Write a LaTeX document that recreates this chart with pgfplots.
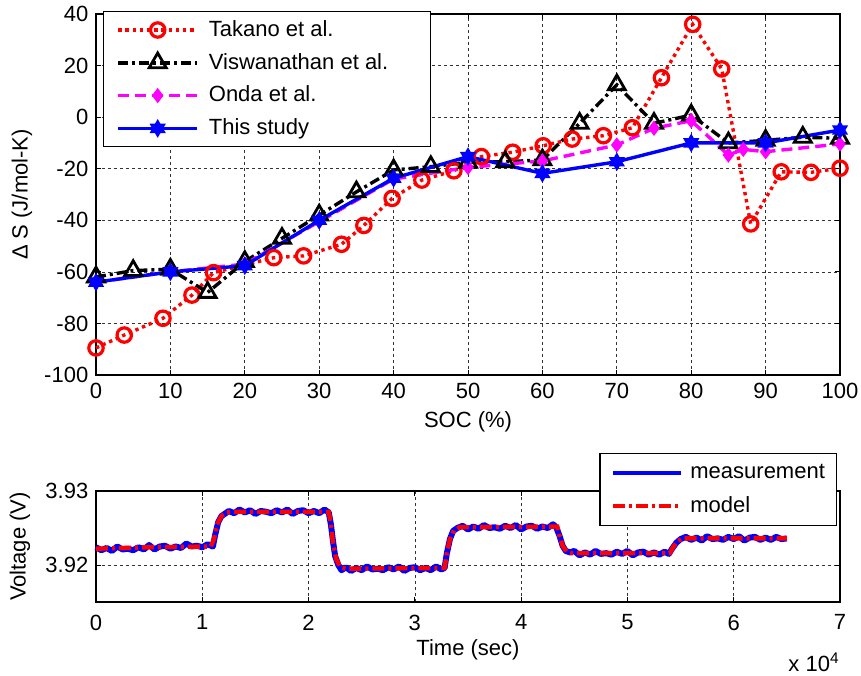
\documentclass[border=0pt]{standalone}
\usepackage{fontspec}
\setmainfont{Liberation Sans}
\usepackage{pgfplots}
\pgfplotsset{compat=1.18}
\definecolor{mag}{rgb}{1,0,1}
\definecolor{pblue}{rgb}{0,0,1}
\definecolor{pred}{rgb}{1,0,0}
\pgfdeclareplotmark{hexagram}{%
  \pgfpathmoveto{\pgfqpointpolar{90}{\pgfplotmarksize}}%
  \pgfpathlineto{\pgfqpointpolar{210}{\pgfplotmarksize}}%
  \pgfpathlineto{\pgfqpointpolar{330}{\pgfplotmarksize}}%
  \pgfpathclose
  \pgfpathmoveto{\pgfqpointpolar{270}{\pgfplotmarksize}}%
  \pgfpathlineto{\pgfqpointpolar{30}{\pgfplotmarksize}}%
  \pgfpathlineto{\pgfqpointpolar{150}{\pgfplotmarksize}}%
  \pgfpathclose
  \pgfusepathqfillstroke
}
\pgfplotsset{
  common/.style={
    scale only axis, width=372pt,
    /pgf/number format/assume math mode=true,
    tick align=inside, major tick length=2.5pt,
    grid=major,
    major grid style={black!80, line width=0.35pt, dash pattern=on 1.5pt off 1.5pt},
    axis line style={line width=0.6pt},
    every tick/.style={black, line width=0.5pt},
    clip=false,
    legend cell align=left,
  }
}
\begin{document}
\fontsize{11}{13}\selectfont
\begin{tikzpicture}
\useasboundingbox (-48pt,-150pt) rectangle (382.5pt,187.5pt);
\begin{axis}[common, at={(0pt,0pt)}, anchor=south west,
  height=180.5pt,
  xmin=0, xmax=100, ymin=-100, ymax=40,
  xtick={0,10,...,100}, ytick={-100,-80,...,40},
  every axis x label/.style={at={(axis description cs:0.5,0)}, yshift=-23.5pt, anchor=center},
  every axis y label/.style={at={(axis description cs:0,0.5)}, xshift=-37pt, anchor=center, rotate=90},
  xlabel={SOC (\%)}, ylabel={Δ S (J/mol-K)},
  legend image code/.code={%
    \path[draw=none,fill=none] (-7.3pt,-8.2pt) rectangle (39.5pt,8.2pt);
    \draw[mark repeat=2, mark phase=2] plot coordinates {(0pt,0pt) (19.75pt,0pt) (39.5pt,0pt)};},
  legend style={at={(0.0094,1.0083)}, anchor=north west, draw=black, line width=0.6pt, fill=white,
    inner xsep=0pt, inner ysep=1pt, column sep=5pt, row sep=0pt, nodes={inner sep=0pt}},
]
\addplot[pred, line width=1.7pt, dash pattern=on 1.7pt off 1.9pt, mark=o, mark size=3.6pt,
  mark options={solid, line width=1.6pt}] coordinates {
(0,-89.5) (3.8,-84.5) (9,-78) (12.9,-69) (15.8,-60.3) (23.9,-54.5) (27.9,-53.8) (33,-49.3)
(36,-42) (39.8,-31.5) (43.8,-24.4) (48.1,-20.8) (51.8,-15.3) (56,-13.6) (60.1,-11.1)
(64,-8.5) (68.2,-7.2) (72.1,-4.1) (76,15.3) (80.2,36) (84.1,18.7) (88,-41.4) (92.1,-21.2)
(96.1,-21.4) (100,-19.8)};
\addlegendentry{\makebox[111pt][l]{Takano et al.}}
\addplot[black, line width=1.7pt, dash pattern=on 5pt off 2pt on 1.5pt off 2pt, mark=triangle, mark size=4.9pt,
  mark options={solid, line width=1.4pt}] coordinates {
(0,-62) (5,-59.5) (10,-59) (15,-68) (20,-56) (25,-47) (30,-38) (35,-29) (40,-20.5)
(45,-19.2) (50,-17.5) (55,-17.3) (60,-16.6) (65,-2.4) (70,12.5) (75,-2.4) (80,0.8)
(85,-10) (90,-9) (95,-7.8) (100,-8.2)};
\addlegendentry{\makebox[111pt][l]{Viswanathan et al.}}
\addplot[mag, line width=1.7pt, dash pattern=on 5.5pt off 3pt, mark=diamond*, mark size=3.1pt,
  mark options={solid, line width=0.9pt}] coordinates {
(0,-64) (10,-60) (20,-57) (30,-40.5) (40,-24) (50,-19.5) (60,-17) (70,-10.8) (75,-4.3)
(80,-1.4) (85,-14.7) (87,-12.5) (90,-13.4) (100,-10.4)};
\addlegendentry{\makebox[111pt][l]{Onda et al.}}
\addplot[pblue, line width=1.7pt, mark=hexagram, mark size=3.8pt,
  mark options={solid, fill=pblue, line width=0.9pt}] coordinates {
(0,-64) (10,-60) (20,-57.6) (30,-40) (40,-23.7) (50,-15.3) (60,-21.8) (70,-17.3)
(80,-10) (90,-10) (100,-5)};
\addlegendentry{\makebox[111pt][l]{This study}}
\end{axis}

\begin{axis}[common, at={(0pt,-113.5pt)}, anchor=south west,
  height=55.5pt,
  xmin=0, xmax=70000, ymin=3.915, ymax=3.93,
  xtick={0,10000,20000,30000,40000,50000,60000,70000},
  xticklabels={0,1,2,3,4,5,6,7}, scaled x ticks=false,
  ytick={3.92,3.93}, yticklabels={3.92,3.93},
  xticklabel style={yshift=-2.5pt},
  every axis x label/.style={at={(axis description cs:0.5,0)}, yshift=-24pt, anchor=center},
  every axis y label/.style={at={(axis description cs:0,0.5)}, xshift=-38pt, anchor=center, rotate=90},
  xlabel={Time (sec)}, ylabel={Voltage (V)},
  legend image code/.code={%
    \path[draw=none,fill=none] (-6.5pt,-8.35pt) rectangle (34pt,8.35pt);
    \draw[line width=2pt] plot coordinates {(0pt,0pt) (34pt,0pt)};},
  legend style={at={(0.996,1.342)}, anchor=north east, draw=black, line width=0.6pt, fill=white,
    inner xsep=0pt, inner ysep=1.3pt, column sep=3.7pt, row sep=0pt, nodes={inner sep=0pt}},
]
\addplot[pblue, line width=3pt, line join=round] coordinates {
(0,3.9224) (500,3.9220) (1000,3.9223) (1500,3.9219) (2000,3.9225) (2500,3.9221) (3000,3.9222)
(3500,3.9220) (4000,3.9224) (4500,3.9221) (5000,3.9227) (5500,3.9221) (6000,3.9225) (6500,3.9226)
(7000,3.9222) (7500,3.9225) (8000,3.9223) (8500,3.9229) (9000,3.9225) (9500,3.9226) (10000,3.9224)
(10500,3.9228) (11000,3.9225) (11200,3.9240) (11500,3.9258) (11800,3.9266) (12200,3.9270) (12500,3.9273)
(13000,3.9270) (13500,3.9275) (14000,3.9271) (14500,3.9274) (15000,3.9269) (15500,3.9273) (16000,3.9272)
(16500,3.9270) (17000,3.9274) (17500,3.9271) (18000,3.9275) (18500,3.9269) (19000,3.9273) (19500,3.9274)
(20000,3.9270) (20500,3.9273) (21000,3.9270) (21500,3.9275) (21900,3.9271)
(22100,3.9255) (22300,3.9232) (22500,3.9212) (22800,3.9200) (23100,3.9193)
(23500,3.9197) (24000,3.9192) (24500,3.9196) (25000,3.9193) (25500,3.9198) (26000,3.9194) (26500,3.9195)
(27000,3.9193) (27500,3.9197) (28000,3.9194) (28500,3.9198) (29000,3.9192) (29500,3.9196) (30000,3.9197)
(30500,3.9193) (31000,3.9196) (31500,3.9193) (32000,3.9198) (32500,3.9194) (32800,3.9196)
(33000,3.9215) (33300,3.9235) (33600,3.9246) (34000,3.9250)
(34500,3.9253) (35000,3.9248) (35500,3.9252) (36000,3.9249) (36500,3.9254) (37000,3.9250) (37500,3.9251)
(38000,3.9249) (38500,3.9253) (39000,3.9250) (39500,3.9254) (40000,3.9248) (40500,3.9252) (41000,3.9253)
(41500,3.9249) (42000,3.9252) (42500,3.9250) (43000,3.9255) (43300,3.9251)
(43600,3.9240) (43900,3.9226) (44200,3.9219) (44600,3.9217)
(45000,3.9219) (45500,3.9213) (46000,3.9217) (46500,3.9214) (47000,3.9219) (47500,3.9215) (48000,3.9216)
(48500,3.9214) (49000,3.9218) (49500,3.9215) (50000,3.9219) (50500,3.9213) (51000,3.9217) (51500,3.9218)
(52000,3.9214) (52500,3.9217) (53000,3.9214) (53500,3.9218) (53900,3.9215)
(54200,3.9222) (54600,3.9230) (55000,3.9235)
(55500,3.9238) (56000,3.9234) (56500,3.9237) (57000,3.9233) (57500,3.9239) (58000,3.9235) (58500,3.9236)
(59000,3.9234) (59500,3.9238) (60000,3.9235) (60500,3.9239) (61000,3.9233) (61500,3.9237) (62000,3.9238)
(62500,3.9234) (63000,3.9237) (63500,3.9234) (64000,3.9238) (64500,3.9235) (65000,3.9236)};
\addlegendentry{\makebox[73pt][l]{measurement}}
\addplot[pred, line width=2.2pt, dash pattern=on 6pt off 2pt on 1.5pt off 2pt] coordinates {
(0,3.9222) (5000,3.9224) (10800,3.9225) (11100,3.9235) (11400,3.9255) (11800,3.9266) (12300,3.9271)
(13000,3.9272) (21900,3.9272) (22100,3.9255) (22300,3.9230) (22600,3.9208) (23000,3.9197)
(23500,3.9195) (32800,3.9196) (33000,3.9215) (33300,3.9235) (33700,3.9247) (34200,3.9251)
(43400,3.9252) (43600,3.9240) (43900,3.9226) (44300,3.9218) (44800,3.9216) (54000,3.9216)
(54300,3.9224) (54700,3.9232) (55200,3.9236) (65000,3.9236)};
\addlegendentry{\makebox[73pt][l]{model}}
\node[anchor=east, inner sep=0pt] at (rel axis cs:1,0) [yshift=-30pt] {x 10\textsuperscript{4}};
\end{axis}
\end{tikzpicture}
\end{document}
